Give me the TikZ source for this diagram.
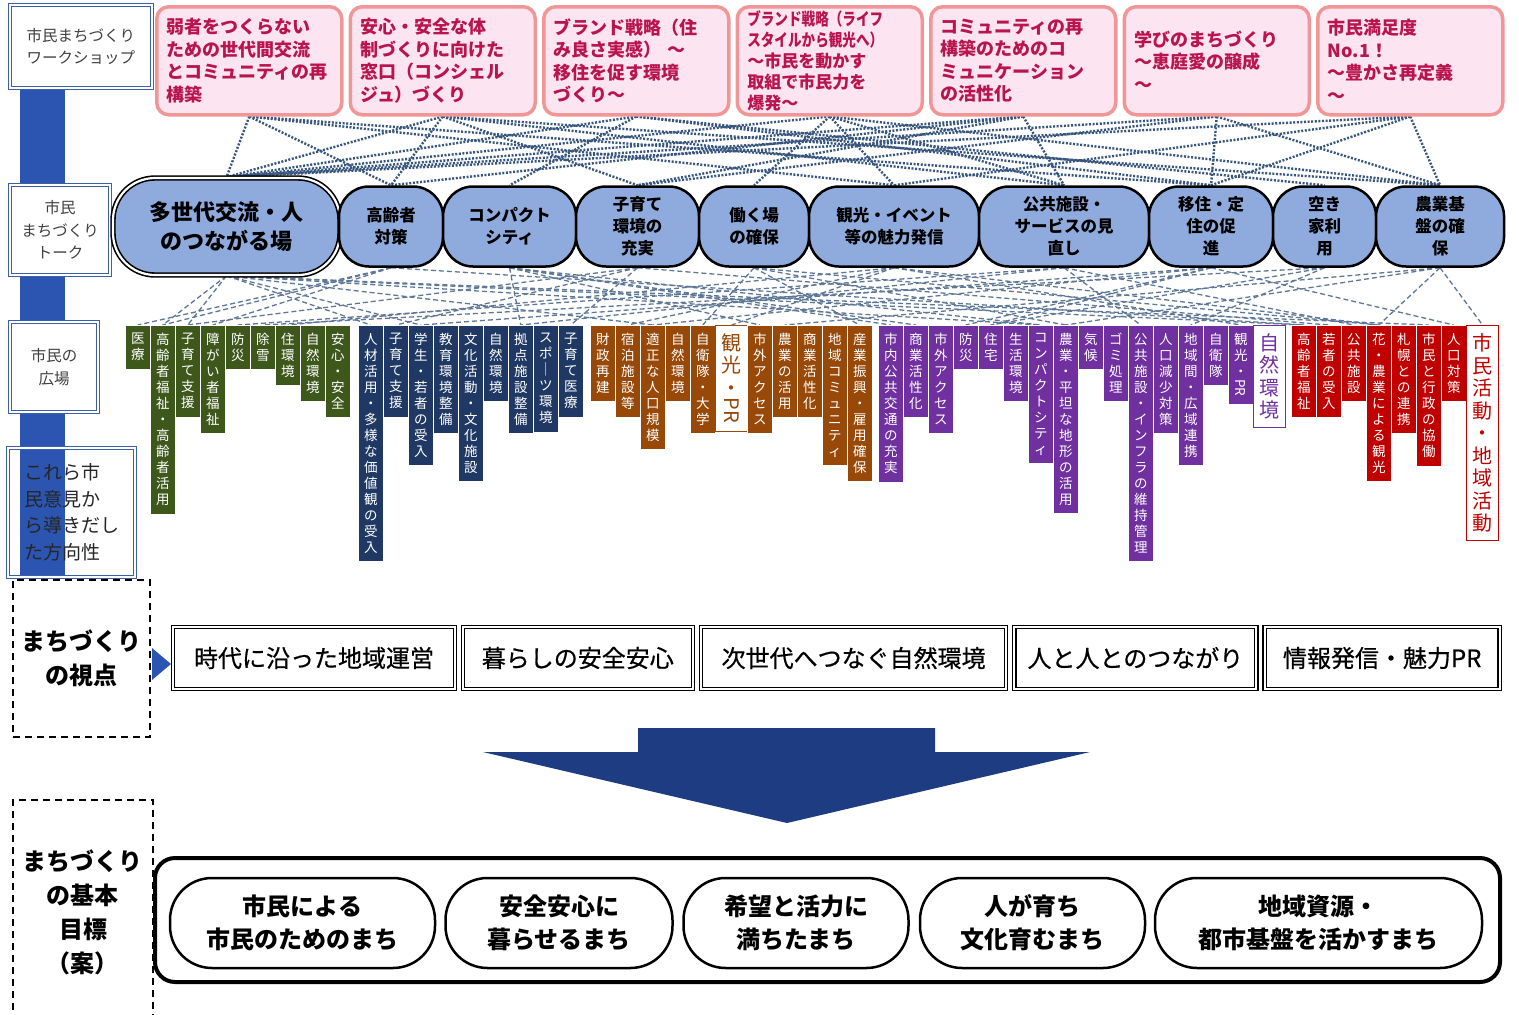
\documentclass[tikz,border=0pt]{standalone}
\usepackage{fontspec}
\usepackage{graphicx}
\setmainfont{Noto Sans CJK JP}
\newfontfamily\midfont{Noto Sans CJK JP}[FakeBold=0.6]
\usetikzlibrary{positioning,backgrounds}

\definecolor{wsborder}{RGB}{240,150,150}
\definecolor{wsfill}{RGB}{252,228,240}
\definecolor{wstext}{RGB}{185,20,75}
\definecolor{talkfill}{RGB}{143,170,220}
\definecolor{barblue}{RGB}{43,85,176}
\definecolor{sideframe}{RGB}{60,95,170}
\definecolor{linkblue}{RGB}{55,85,125}
\definecolor{grpgreen}{RGB}{62,88,28}
\definecolor{grpnavy}{RGB}{31,56,100}
\definecolor{grpbrown}{RGB}{152,72,7}
\definecolor{grppurple}{RGB}{112,48,160}
\definecolor{grpred}{RGB}{192,0,0}
\definecolor{arrowblue}{RGB}{30,60,130}

\newcommand\wsfont{\fontsize{18}{22.5}\selectfont\bfseries}
\newcommand\talkfont{\fontsize{16.5}{22}\selectfont\bfseries}
\newcommand\bigtalkfont{\fontsize{22}{29}\selectfont\bfseries}
\newcommand\barfont{\fontsize{13.5}{16}\selectfont}
\newcommand\notefont{\fontsize{20}{22.5}\selectfont}
\newcommand\sidefont{\fontsize{15.5}{22.5}\selectfont}
\newcommand\viewfont{\fontsize{24}{34}\selectfont\bfseries}
\newcommand\pointfont{\fontsize{24}{26}\selectfont\midfont}
\newcommand\goalfont{\fontsize{24}{33}\selectfont\bfseries}

% 縦書き（1文字ずつ改行）
\def\tate#1{\expandafter\tateB#1\relax}
\def\tateB#1#2{#1\ifx\relax#2\else\\\expandafter\tateB\expandafter#2\fi}

\begin{document}
\begin{tikzpicture}[
    x=1pt, y=-1pt,
    ws/.style={
        rectangle,
        rounded corners=12,
        draw=wsborder,
        fill=wsfill,
        line width=3.5,
        text=wstext,
        font=\wsfont,
        text width=165,
        minimum height=108,
        inner xsep=10,
        align=left
    },
    talk/.style={
        rectangle,
        rounded corners=30,
        draw=black,
        fill=talkfill,
        line width=2.5,
        font=\talkfont,
        minimum height=80,
        inner sep=2,
        align=center
    },
    vbar/.style={
        rectangle,
        anchor=north west,
        draw=white,
        line width=0.5,
        text=white,
        font=\barfont,
        minimum width=25,
        text width=25,
        inner xsep=0,
        inner ysep=8,
        align=center
    },
    vnote/.style={
        vbar,
        fill=white,
        line width=1.2,
        font=\notefont,
        minimum width=32,
        text width=32
    },
    sidebox/.style={
        rectangle,
        fill=white,
        draw=sideframe,
        double=white,
        double distance=1.2,
        line width=1,
        text=black!75,
        font=\sidefont,
        align=center
    },
    viewbox/.style={
        rectangle,
        draw=black,
        dash pattern=on 7pt off 5pt,
        line width=1.5,
        font=\viewfont,
        align=center
    },
    point/.style={
        rectangle,
        draw=black,
        double=white,
        double distance=2,
        line width=1.3,
        fill=white,
        font=\pointfont,
        minimum height=62
    },
    goal/.style={
        rectangle,
        rounded corners=42,
        draw=black,
        line width=2.5,
        fill=white,
        font=\goalfont,
        minimum height=90,
        align=center
    },
    wslink/.style={
        linkblue,
        line width=2.4,
        dash pattern=on 2pt off 1.6pt
    },
    talklink/.style={
        linkblue!80,
        line width=1.3,
        dash pattern=on 5pt off 3pt
    }
]
\useasboundingbox (0,0) rectangle (1519,1015);

% 左側ラベル
\fill[barblue] (20,88) rectangle (65,575);
\node[sidebox, align=left, font=\fontsize{19}{26.5}\selectfont, text=black!85, double distance=1.5, line width=1.3,
      minimum width=127, minimum height=129,
      path picture={\fill[barblue] ([xshift=12pt]path picture bounding box.north west)
                    rectangle ([xshift=57pt]path picture bounding box.south west);}]
      (l4) at (71.5,512.5) {これら市\\民意見か\\ら導きだし\\た方向性};
\node[sidebox, minimum width=142, minimum height=83] (l1) at (81,46.5) {市民まちづくり\\ワークショップ};
\node[sidebox, minimum width=100, minimum height=90] (l2) at (60,230) {市民\\まちづくり\\トーク};
\node[sidebox, minimum width=88, minimum height=90] (l3) at (54,367) {市民の\\広場};
\node[viewbox, minimum width=137, minimum height=157] (l5) at (81.5,658.5) {まちづくり\\の視点};
\node[viewbox, minimum width=140, minimum height=225] (l6) at (83,912.5) {まちづくり\\の基本\\目標\\（案）};
\fill[barblue] (152,648) -- (171,664) -- (152,680) -- cycle;

% 上段 - ワークショップ
\node[ws, anchor=north west] (t1) at (155,5) {弱者をつくらない\\ための世代間交流\\とコミュニティの再\\構築};
\node[ws, right=5pt of t1] (t2) {安心・安全な体\\制づくりに向けた\\窓口（コンシェル\\ジュ）づくり};
\node[ws, right=5pt of t2] (t3) {ブランド戦略（住\\み良さ実感） ～\\移住を促す環境\\づくり～};
\node[ws, right=5pt of t3, font=\fontsize{17}{21}\selectfont\bfseries] (t4)
    {\scalebox{0.8}[1]{ブランド戦略（ライフ}\\\scalebox{0.8}[1]{スタイルから観光へ）}\\～市民を動かす\\取組で市民力を\\爆発～};
\node[ws, right=5pt of t4] (t5) {コミュニティの再\\構築のためのコ\\ミュニケーション\\の活性化};
\node[ws, right=5pt of t5] (t6) {学びのまちづくり\\～恵庭愛の醸成\\～};
\node[ws, right=5pt of t6] (t7) {市民満足度\\No.1！\\～豊かさ再定義\\～};

% 中段 - トーク
\node[talk, font=\bigtalkfont, double, line width=1.6, double distance=2.2, rounded corners=42,
      minimum width=227, minimum height=97] (o1) at (226.5,226.5) {多世代交流・人\\のつながる場};
\node[talk, minimum width=104, right=-3pt of o1] (o2) {高齢者\\対策};
\node[talk, minimum width=133, right=-2.5pt of o2] (o3) {コンパクト\\シティ};
\node[talk, minimum width=123, right=-2.5pt of o3] (o4) {子育て\\環境の\\充実};
\node[talk, minimum width=110, right=-2.5pt of o4] (o5) {働く場\\の確保};
\node[talk, minimum width=170, right=-2.5pt of o5] (o6) {観光・イベント\\等の魅力発信};
\node[talk, minimum width=170, right=-2.5pt of o6] (o7) {公共施設・\\サービスの見\\直し};
\node[talk, minimum width=124, right=-2.5pt of o7] (o8) {移住・定\\住の促\\進};
\node[talk, minimum width=103, right=-2.5pt of o8] (o9) {空き\\家利\\用};
\node[talk, minimum width=128, right=-2.5pt of o9] (o10) {農業基\\盤の確\\保};

% 市民の広場 - 縦の帯
\foreach \txt [count=\i] in {医療,高齢者福祉・高齢者活用,子育て支援,障がい者福祉,防災,除雪,住環境,自然環境,安心・安全}
    \node[vbar, fill=grpgreen] (g\i) at ({125+25*(\i-1)},325) {\tate{\txt}};
\foreach \txt [count=\i] in {人材活用・多様な価値観の受入,子育て支援,学生・若者の受入,教育環境整備,文化活動・文化施設,自然環境,拠点施設整備,スポ｜ツ環境,子育て医療}
    \node[vbar, fill=grpnavy] (n\i) at ({358+25*(\i-1)},325) {\tate{\txt}};
\foreach \txt [count=\i] in {財政再建,宿泊施設等,適正な人口規模,自然環境,自衛隊・大学}
    \node[vbar, fill=grpbrown] (b\i) at ({590+25*(\i-1)},325) {\tate{\txt}};
\node[vnote, draw=grpbrown, text=grpbrown] (b6) at (715,325) {観\\光\\・\\\rotatebox[origin=c]{-90}{PR}};
\foreach \txt [count=\i from 7] in {市外アクセス,農業の活用,商業活性化,地域コミュニティ,産業振興・雇用確保}
    \node[vbar, fill=grpbrown] (b\i) at ({747+25*(\i-7)},325) {\tate{\txt}};
\foreach \txt [count=\i] in {市内公共交通の充実,商業活性化,市外アクセス,防災,住宅,生活環境,コンパクトシティ,農業・平坦な地形の活用,気候,ゴミ処理,公共施設・インフラの維持管理,人口減少対策,地域間・広域連携,自衛隊}
    \node[vbar, fill=grppurple] (p\i) at ({878+25*(\i-1)},325) {\tate{\txt}};
\node[vbar, fill=grppurple] (p15) at (1228,325) {観\\光\\・\\\rotatebox[origin=c]{-90}{PR}};
\node[vnote, draw=grppurple, text=grppurple] (p16) at (1253,325) {\tate{自然環境}};
\foreach \txt [count=\i] in {高齢者福祉,若者の受入,公共施設,花・農業による観光,札幌との連携,市民と行政の協働,人口対策}
    \node[vbar, fill=grpred] (r\i) at ({1291+25*(\i-1)},325) {\tate{\txt}};
\node[vnote, draw=grpred, text=grpred] (r8) at (1466,325) {\tate{市民活動・地域活動}};

% まちづくりの視点
\node[point, minimum width=282] (v1) at (314,658) {時代に沿った地域運営};
\node[point, minimum width=230, right=6.5pt of v1] (v2) {暮らしの安全安心};
\node[point, minimum width=305, right=7pt of v2] (v3) {次世代へつなぐ自然環境};
\node[point, minimum width=242, right=7pt of v3] (v4) {人と人とのつながり};
\node[point, minimum width=235, right=7pt of v4] (v5) {情報発信・魅力PR};

% 下向きの矢印
\fill[arrowblue] (638,728) -- (935,728) -- (935,752) -- (1090,752) -- (787,823) -- (483,752) -- (638,752) -- cycle;

% まちづくりの基本目標
\draw[line width=4, rounded corners=20] (155,858) rectangle (1500,982);
\node[goal, minimum width=265] (goal1) at (302.5,923) {市民による\\市民のためのまち};
\node[goal, minimum width=227, right=8pt of goal1] (goal2) {安全安心に\\暮らせるまち};
\node[goal, minimum width=225, right=8.5pt of goal2] (goal3) {希望と活力に\\満ちたまち};
\node[goal, minimum width=225, right=9pt of goal3] (goal4) {人が育ち\\文化育むまち};
\node[goal, minimum width=327, right=7.5pt of goal4] (goal5) {地域資源・\\都市基盤を活かすまち};

% つながりの線
\begin{scope}[on background layer]
\fill[white] (0,0) rectangle (1519,1015);
\foreach \a/\b in {t1/o1,t1/o2,t1/o6,t1/o8,t2/o1,t2/o2,t2/o4,t2/o7,t2/o10,t3/o1,t3/o3,t3/o8,t3/o9,
    t4/o1,t4/o5,t4/o6,t4/o7,t4/o10,t5/o1,t5/o2,t5/o4,t5/o7,t6/o1,t6/o4,t6/o8,t6/o10,t7/o1,t7/o6,t7/o8,t7/o10}
    \draw[wslink] (\a.south) -- (\b.north);
\foreach \a/\b in {o1/g2,o1/g3,o1/n1,o1/n3,o1/b3,o1/p7,o1/r1,o1/r6,o2/g1,o2/g2,o2/g4,o2/r1,o3/p1,o3/p2,o3/p7,
    o3/n7,o3/b7,o4/g3,o4/n2,o4/n9,o4/r2,o5/b11,o5/b5,o5/p8,o5/r4,o6/b6,o6/p15,o6/r4,o6/b2,o6/g7,o7/p11,o7/r3,
    o7/n7,o7/g5,o8/p4,o8/p5,o8/b3,o8/r7,o8/n3,o9/p5,o9/g6,o9/p13,o10/b8,o10/p8,o10/r4,o10/r8}
    \draw[talklink] (\a.south) -- (\b.north);
\end{scope}
\end{tikzpicture}
\end{document}
